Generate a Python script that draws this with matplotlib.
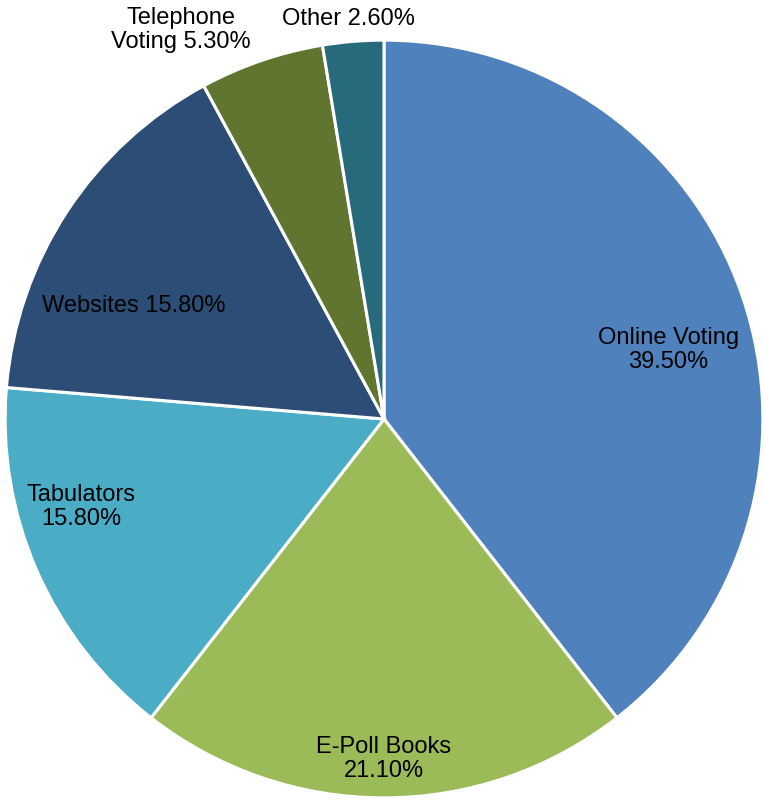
import matplotlib
matplotlib.use("Agg")
import matplotlib.pyplot as plt
import numpy as np

# ── Data ─────────────────────────────────────────────────
categories = ["Online Voting", "E-Poll Books", "Tabulators",
              "Websites", "Telephone Voting", "Other"]
shares = [39.5, 21.1, 15.8, 15.8, 5.3, 2.6]
label_text = ["Online Voting\n39.50%", "E-Poll Books\n21.10%", "Tabulators\n15.80%",
              "Websites 15.80%", "Telephone\nVoting 5.30%", "Other 2.60%"]

colors = ["#4F81BD", "#9BBB59", "#4BACC6", "#2C4D75", "#5F7530", "#276A7C"]

# label anchor points in pie units (radius 1)
label_pos = [(0.75, 0.185), (0.0, -0.895), (-0.8, -0.23),
             (-0.66, 0.30), (-0.535, 1.03), (-0.095, 1.058)]

plt.rcParams["font.family"] = ["Liberation Sans", "DejaVu Sans"]

fig = plt.figure(figsize=(7.65, 8.03), dpi=100)
ax = fig.add_axes([3 / 765, 3 / 803, 762 / 765, 760 / 803])

wedges, _ = ax.pie(shares, colors=colors, startangle=90, counterclock=False,
                   radius=1.0,
                   wedgeprops=dict(edgecolor="white", linewidth=2.2))

for txt, (x, y) in zip(label_text, label_pos):
    ax.text(x, y, txt, ha="center", va="center", fontsize=17,
            color="black", linespacing=1.12)

ax.set_xlim(-1.003, 1.003)
ax.set_ylim(-1.003, 1.003)
ax.set_aspect("equal")
ax.axis("off")

fig.savefig("out.png", dpi=100)
